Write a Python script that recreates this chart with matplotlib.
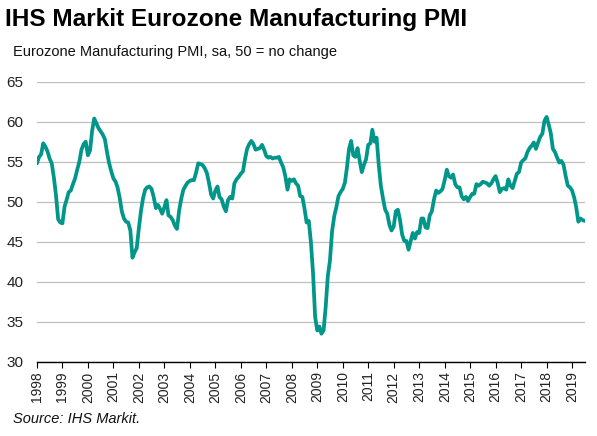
import numpy as np
import pandas as pd
import matplotlib
matplotlib.use('Agg')
import matplotlib.pyplot as plt
import matplotlib.dates as mdates

plt.rcParams['font.family'] = ['Liberation Sans', 'DejaVu Sans']

# monthly PMI, first value is Dec 1997
pmi_1997 = [54.8]
pmi_1998 = [55.6, 55.9, 57.3, 56.9, 56.3, 55.4, 54.8, 53.0, 50.8, 47.8, 47.4, 47.3]
pmi_1999 = [49.4, 50.2, 51.2, 51.4, 52.2, 52.9, 54.0, 55.0, 56.5, 57.2, 57.5, 55.8]
pmi_2000 = [56.4, 58.8, 60.4, 59.8, 59.2, 58.8, 58.4, 57.8, 56.2, 54.8, 53.8, 52.9]
pmi_2001 = [52.5, 51.8, 50.5, 48.8, 47.9, 47.5, 47.4, 46.4, 43.0, 43.7, 44.2, 46.7]
pmi_2002 = [48.9, 50.4, 51.5, 51.8, 51.9, 51.6, 50.6, 49.2, 49.6, 49.1, 48.5, 49.3]
pmi_2003 = [50.2, 48.3, 48.1, 47.7, 47.0, 46.6, 48.9, 50.4, 51.5, 52.0, 52.4, 52.6]
pmi_2004 = [52.7, 52.7, 53.7, 54.8, 54.7, 54.6, 54.2, 53.6, 52.4, 50.9, 50.4, 51.4]
pmi_2005 = [51.9, 50.6, 50.3, 49.4, 48.8, 50.2, 50.6, 50.4, 52.3, 52.8, 53.1, 53.5]
pmi_2006 = [53.8, 55.3, 56.6, 57.2, 57.6, 57.2, 56.5, 56.6, 56.7, 57.1, 56.5, 55.7]
pmi_2007 = [55.5, 55.6, 55.4, 55.5, 55.5, 55.6, 54.9, 54.3, 53.2, 51.5, 52.8, 52.6]
pmi_2008 = [52.8, 52.3, 52.0, 50.7, 50.6, 49.2, 47.4, 47.6, 45.0, 41.1, 35.6, 33.9]
pmi_2009 = [34.4, 33.5, 33.9, 36.8, 40.7, 42.6, 46.3, 48.2, 49.3, 50.7, 51.2, 51.6]
pmi_2010 = [52.4, 54.2, 56.6, 57.6, 55.8, 55.6, 56.7, 55.1, 53.7, 54.6, 55.3, 57.1]
pmi_2011 = [57.3, 59.0, 57.5, 58.0, 54.6, 52.0, 50.4, 49.0, 48.5, 47.1, 46.4, 46.9]
pmi_2012 = [48.8, 49.0, 47.7, 45.9, 45.1, 45.1, 44.0, 45.1, 46.1, 45.4, 46.2, 46.1]
pmi_2013 = [47.9, 47.9, 46.8, 46.7, 48.3, 48.8, 50.3, 51.4, 51.1, 51.3, 51.6, 52.7]
pmi_2014 = [54.0, 53.2, 53.0, 53.4, 52.2, 51.8, 51.8, 50.7, 50.3, 50.6, 50.1, 50.6]
pmi_2015 = [51.0, 51.0, 52.2, 52.0, 52.2, 52.5, 52.4, 52.3, 52.0, 52.3, 52.8, 53.2]
pmi_2016 = [52.3, 51.2, 51.6, 51.7, 51.5, 52.8, 52.0, 51.7, 52.6, 53.5, 53.7, 54.9]
pmi_2017 = [55.2, 55.4, 56.2, 56.7, 57.0, 57.4, 56.6, 57.4, 58.1, 58.5, 60.1, 60.6]
pmi_2018 = [59.6, 58.6, 56.6, 56.2, 55.5, 54.9, 55.1, 54.6, 53.2, 52.0, 51.8, 51.4]
pmi_2019 = [50.5, 49.3, 47.5, 47.9, 47.7, 47.6]

pmi = (pmi_1997 + pmi_1998 + pmi_1999 + pmi_2000 + pmi_2001 + pmi_2002
       + pmi_2003 + pmi_2004 + pmi_2005 + pmi_2006 + pmi_2007 + pmi_2008
       + pmi_2009 + pmi_2010 + pmi_2011 + pmi_2012 + pmi_2013 + pmi_2014
       + pmi_2015 + pmi_2016 + pmi_2017 + pmi_2018 + pmi_2019)
dates = pd.date_range('1997-12-31', periods=len(pmi), freq='ME')

years = list(range(1998, 2020))
y_ticks = [30, 35, 40, 45, 50, 55, 60, 65]

fig = plt.figure(figsize=(5.97, 4.36), dpi=100)
ax = fig.add_axes([0.062, 0.1704, 0.918, 0.6422])

ax.plot(dates, pmi, color='#00968A', lw=2.7, solid_joinstyle='round',
        solid_capstyle='round', zorder=3)

ax.set_ylim(30, 65)
ax.set_yticks(y_ticks)
ax.set_xlim(pd.Timestamp('1998-01-01'), pd.Timestamp('2019-07-05'))
ax.set_xticks([pd.Timestamp(f'{y}-01-01') for y in years])
ax.xaxis.set_major_formatter(mdates.DateFormatter('%Y'))

ax.grid(axis='y', color='#bfbfbf', lw=0.9)
ax.set_axisbelow(True)
for s in ['left', 'right', 'top']:
    ax.spines[s].set_visible(False)
ax.spines['bottom'].set_color('black')
ax.spines['bottom'].set_linewidth(1.0)

ax.tick_params(axis='y', length=0, labelsize=11, pad=10, labelcolor='#222222')
ax.tick_params(axis='x', length=4, width=0.8, direction='out', labelsize=10,
               labelrotation=90, pad=3, labelcolor='#222222')

fig.text(0.008, 0.955, 'IHS Markit Eurozone Manufacturing PMI',
         fontsize=17.6, fontweight='bold', va='center', ha='left')
fig.text(0.022, 0.88, 'Eurozone Manufacturing PMI, sa, 50 = no change',
         fontsize=10.5, va='center', ha='left', color='#111111')
fig.text(0.022, 0.04, 'Source: IHS Markit.', fontsize=10.5, style='italic',
         va='center', ha='left', color='#111111')

fig.savefig('out.png', dpi=100)
